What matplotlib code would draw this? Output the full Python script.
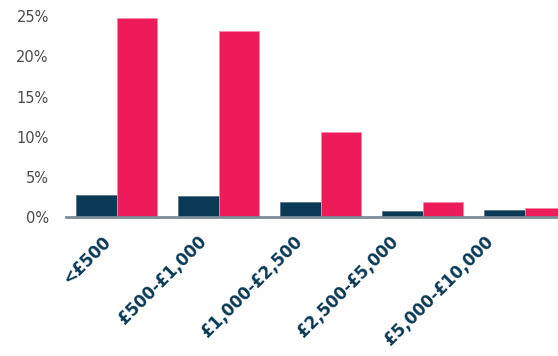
import numpy as np
import matplotlib.pyplot as plt
from matplotlib.ticker import FuncFormatter
from matplotlib.transforms import ScaledTranslation

bands = ["<£500", "£500-£1,000", "£1,000-£2,500", "£2,500-£5,000", "£5,000-£10,000"]
series_a = [2.8, 2.7, 1.95, 0.8, 0.9]
series_b = [24.8, 23.1, 10.55, 1.9, 1.2]

navy = "#0b3a56"
pink = "#ee1b5a"

fig = plt.figure(figsize=(5.58, 3.56), dpi=100)
ax = fig.add_axes([0.1174, 0.3896, 0.914, 0.5654])

x = np.arange(len(bands))
w = 0.4
ax.bar(x - w/2, series_a, w, color=navy, edgecolor="#5a7385", linewidth=0.6)
ax.bar(x + w/2, series_b, w, color=pink, edgecolor="#f48aa8", linewidth=0.6)

ax.set_xlim(-0.5, len(bands) - 0.5)
ax.set_ylim(0, 25)
ax.set_yticks([0, 5, 10, 15, 20, 25])
ax.yaxis.set_major_formatter(FuncFormatter(lambda v, p: f"{v:.0f}%"))

for s in ["top", "right", "left"]:
    ax.spines[s].set_visible(False)
ax.spines["bottom"].set_color("#7d8b97")
ax.spines["bottom"].set_linewidth(2)

ax.tick_params(axis="y", length=0, pad=12, labelsize=10.5, labelcolor="#4a4a4a")
ax.tick_params(axis="x", length=0, pad=11)
ax.set_xticks(x)
ax.set_xticklabels(bands, rotation=45, ha="right", va="top", rotation_mode="anchor",
                   fontsize=12, fontweight="bold", color=navy)

# labels drift left a little more for each category
for i, lab in enumerate(ax.get_xticklabels()):
    shift = -(15 + 6.2 * i) / 100
    lab.set_transform(lab.get_transform() + ScaledTranslation(shift, 0, fig.dpi_scale_trans))

fig.savefig("out.png", dpi=100)
